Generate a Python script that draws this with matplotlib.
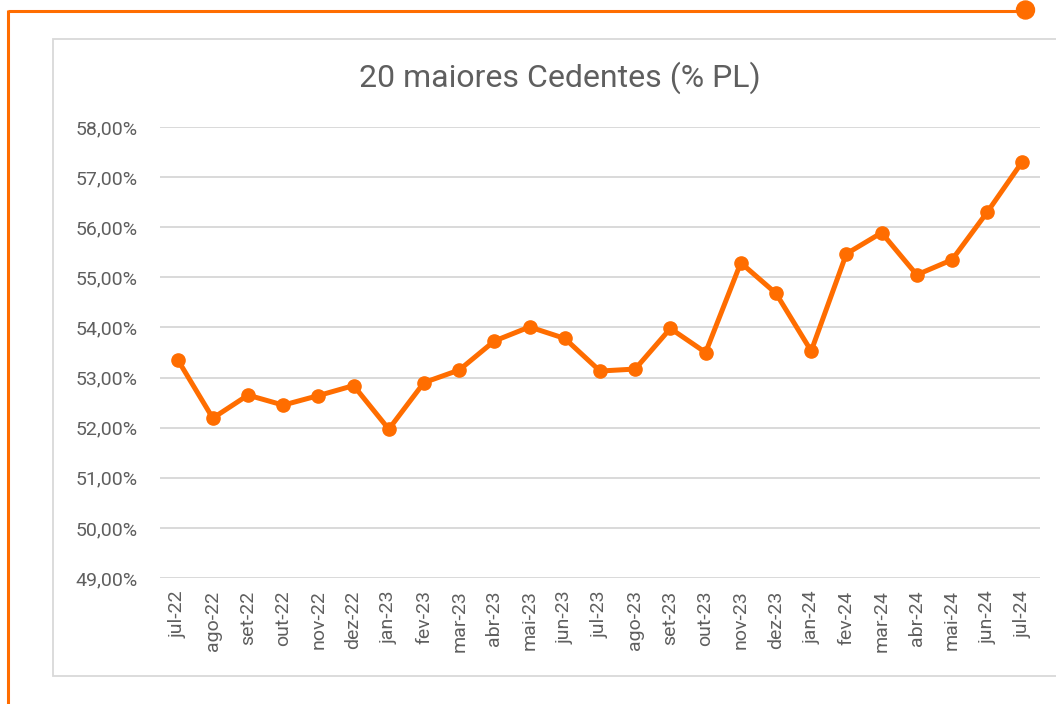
import matplotlib
matplotlib.use("Agg")
import matplotlib.pyplot as plt
from matplotlib.patches import Circle, Rectangle
from matplotlib.ticker import FuncFormatter

plt.rcParams["font.family"] = ["Roboto", "DejaVu Sans"]

# data (% PL of the 20 largest assignors)
months = [
    "jul-22", "ago-22", "set-22", "out-22", "nov-22", "dez-22",
    "jan-23", "fev-23", "mar-23", "abr-23", "mai-23", "jun-23",
    "jul-23", "ago-23", "set-23", "out-23", "nov-23", "dez-23",
    "jan-24", "fev-24", "mar-24", "abr-24", "mai-24", "jun-24", "jul-24",
]
pct_pl = [
    53.36, 52.19, 52.65, 52.45, 52.64, 52.84,
    51.97, 52.90, 53.15, 53.73, 54.01, 53.78,
    53.13, 53.17, 53.98, 53.50, 55.29, 54.68,
    53.53, 55.47, 55.89, 55.05, 55.35, 56.30, 57.31,
]
y_ticks = [49, 50, 51, 52, 53, 54, 55, 56, 57, 58]

ORANGE = "#FF6D00"
GREY_TXT = "#5F5F5F"
GREY_LN = "#D9D9D9"

W, H = 1056, 704
fig = plt.figure(figsize=(W / 100, H / 100), dpi=100)

# decorative frame, drawn in pixel coordinates
bg = fig.add_axes([0, 0, 1, 1], zorder=0)
bg.set_xlim(0, W)
bg.set_ylim(H, 0)
bg.axis("off")
bg.add_patch(Rectangle((53, 39), 1100, 637, facecolor="white",
                       edgecolor=GREY_LN, linewidth=1.3))
bg.plot([8, 1025], [11, 11], color=ORANGE, linewidth=2.2, solid_capstyle="butt")
bg.plot([8, 8], [10, H + 5], color=ORANGE, linewidth=2.2, solid_capstyle="butt")
bg.add_patch(Circle((1025.5, 10), 9, color=ORANGE))

ax = fig.add_axes([160 / W, 126 / H, 880 / W, 451 / H], zorder=1)
ax.patch.set_alpha(0)
x = list(range(len(months)))
ax.plot(x, pct_pl, color=ORANGE, linewidth=3.6, marker="o", markersize=9.5,
        solid_joinstyle="round", zorder=3, clip_on=False)

ax.set_xlim(-0.5, len(months) - 0.5)
ax.set_ylim(49, 58)
ax.set_yticks(y_ticks)
ax.yaxis.set_major_formatter(FuncFormatter(lambda v, _: f"{v:.2f}%".replace(".", ",")))
ax.set_xticks(x)
ax.set_xticklabels(months, rotation=90)
ax.grid(axis="y", color=GREY_LN, linewidth=1.4)
ax.set_axisbelow(True)
for s in ax.spines.values():
    s.set_visible(False)
ax.tick_params(axis="both", length=0, colors=GREY_TXT, labelsize=14)
ax.tick_params(axis="y", pad=16)
ax.tick_params(axis="x", pad=9)

fig.text(560 / W, 1 - 78 / H, "20 maiores Cedentes (% PL)", ha="center", va="center",
         fontsize=23, color=GREY_TXT)

fig.savefig("out.png", dpi=100)
